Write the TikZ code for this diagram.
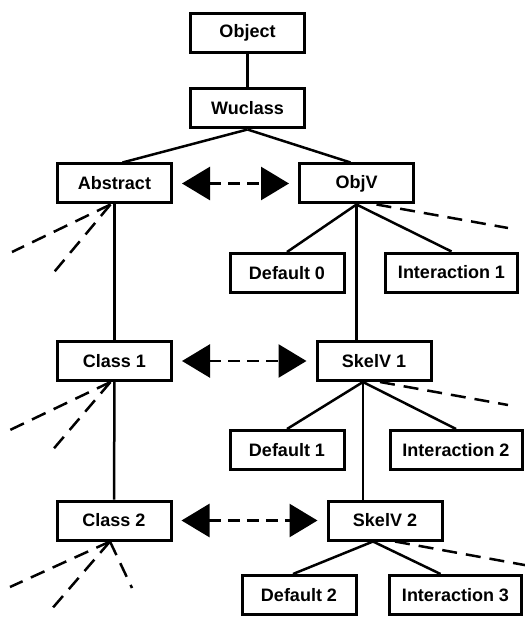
\documentclass[tikz,border=0pt]{standalone}
\usepackage{fontspec}
\setmainfont{Liberation Sans}
\usetikzlibrary{arrows.meta}

\begin{document}
\begin{tikzpicture}[x=1pt, y=-1pt,
    cls/.style={draw, line width=3pt, inner sep=0pt, minimum width=114pt, minimum height=39pt, font=\fontsize{18}{20}\selectfont\bfseries},
    wide/.style={minimum width=132pt},
    edge/.style={line width=2.5pt},
    stub/.style={line width=2.5pt, dash pattern=on 15pt off 9pt},
    link/.style={line width=2.6pt, dash pattern=on 12pt off 7pt, {Triangle[length=28pt,width=33pt]}-{Triangle[length=28pt,width=33pt]}, shorten <=9pt, shorten >=9pt}]
    \useasboundingbox (0,0) rectangle (524,617);
    \node (obj) at (247.5,33) [cls] {Object};
    \node (wu) at (247.5,108.5) [cls] {Wuclass};
    \node (abs) at (114.5,183.5) [cls] {Abstract};
    \node (objv) at (356.5,183.5) [cls] {ObjV};
    \node (def0) at (287,273) [cls] {Default 0};
    \node (int1) at (451.5,272.5) [cls, wide] {Interaction 1};
    \node (cl1) at (114.5,361) [cls] {Class 1};
    \node (sk1) at (374,361) [cls] {SkelV 1};
    \node (def1) at (287,450) [cls] {Default 1};
    \node (int2) at (456,450) [cls, wide] {Interaction 2};
    \node (cl2) at (114,520.5) [cls] {Class 2};
    \node (sk2) at (385,520.5) [cls] {SkelV 2};
    \node (def2) at (299,595) [cls] {Default 2};
    \node (int3) at (455.5,595) [cls, wide] {Interaction 3};
    % branching points below the skeleton views
    \coordinate (s1) at ([xshift=-11pt]sk1.south);
    \coordinate (s2) at ([xshift=-12pt]sk2.south);
    % free ends of the dashed stubs
    \coordinate (a1) at (12,252);
    \coordinate (a2) at (50,277);
    \coordinate (c1) at (10,430);
    \coordinate (c2) at (50,453);
    \coordinate (d1) at (10,587);
    \coordinate (d2) at (50,611);
    \coordinate (d3) at (132,588);
    \coordinate (o1) at (508,228);
    \coordinate (k1) at (508,405);
    \coordinate (k2) at (530,566);
    \draw[edge] (obj) -- (wu);
    \draw[edge] (wu.south) -- ([xshift=8pt]abs.north);
    \draw[edge] (wu.south) -- ([xshift=-6pt]objv.north);
    \draw[edge] (abs) -- (cl1);
    \draw[edge] (cl1) -- (cl2);
    \draw[edge] (objv.south) -- (def0.north);
    \draw[edge] (objv.south) -- (int1.north);
    \draw[edge] (objv.south) -- (objv.south |- sk1.north);
    \draw[edge] (s1) -- (def1.north);
    \draw[edge] (s1) -- (int2.north);
    \draw[edge] (s1) -- (s1 |- sk2.north);
    \draw[edge] (s2) -- ([xshift=-6pt]def2.north);
    \draw[edge] (s2) -- ([xshift=-15pt]int3.north);
    \draw[link] (abs) -- (objv);
    \draw[link] (cl1) -- (sk1);
    \draw[link] (cl2) -- (sk2);
    \draw[stub] ([xshift=-4pt]abs.south) -- (a1);
    \draw[stub] ([xshift=-4pt]abs.south) -- (a2);
    \draw[stub] ([xshift=-4pt]cl1.south) -- (c1);
    \draw[stub] ([xshift=-4pt]cl1.south) -- (c2);
    \draw[stub] ([xshift=-4pt]cl2.south) -- (d1);
    \draw[stub] ([xshift=-4pt]cl2.south) -- (d2);
    \draw[stub] ([xshift=-4pt]cl2.south) -- (d3);
    \draw[stub] ([xshift=20pt]objv.south) -- (o1);
    \draw[stub] ([xshift=6pt]sk1.south) -- (k1);
    \draw[stub] ([xshift=10pt]sk2.south) -- (k2);
\end{tikzpicture}
\end{document}
